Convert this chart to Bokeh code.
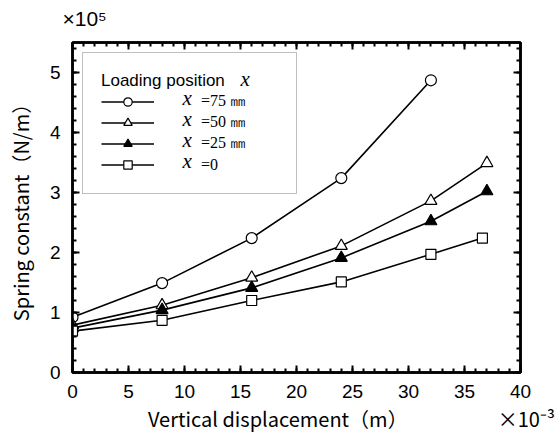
from bokeh.plotting import figure
from bokeh.models import (LinearAxis, SingleIntervalTicker, Legend, LegendItem,
                          Label, Title, CustomLabelingPolicy)
from bokeh.embed import file_html
from bokeh.resources import INLINE

# Vertical displacement (x 10^-3 m) and spring constant (x 10^5 N/m)
disp_75 = [0, 8, 16, 24, 32]
k_75 = [0.92, 1.49, 2.24, 3.24, 4.87]
disp_50 = [0, 8, 16, 24, 32, 37]
k_50 = [0.79, 1.12, 1.58, 2.11, 2.86, 3.49]
disp_25 = [0, 8, 16, 24, 32, 37]
k_25 = [0.74, 1.04, 1.41, 1.91, 2.52, 3.02]
disp_0 = [0, 8, 16, 24, 32, 36.6]
k_0 = [0.69, 0.87, 1.20, 1.51, 1.97, 2.24]
series_labels = ["=75 \u339c", "=50 \u339c", "=25 \u339c", "=0"]

X_MAX, Y_MAX = 40, 5.5
W, H = 557, 435
FL, FR, FT, FB = 72, 520, 42, 373   # frame edges in canvas pixels

SANS = "Liberation Sans"
JP = "Noto Sans CJK JP"
SERIF = "Liberation Serif"
IDSP = "\u3000"   # ideographic space
ENSP = "\u2002"   # en space

p = figure(width=W, height=H, x_range=(0, X_MAX), y_range=(0, Y_MAX),
           output_backend="svg", toolbar_location=None,
           min_border_left=FL, min_border_right=W - FR,
           min_border_top=FT, min_border_bottom=H - FB)
p.grid.visible = False
p.outline_line_color = "black"
p.outline_line_width = 2.5
p.background_fill_color = "white"
p.border_fill_color = "white"

xt = SingleIntervalTicker(interval=5, num_minor_ticks=5)
yt = SingleIntervalTicker(interval=1, num_minor_ticks=5)

# mirrored axes carry ticks only
no_labels = CustomLabelingPolicy(code="""
    for (const i of indices) indices.unset(i)
    return indices
""")


def style_axis(ax, labels=True):
    ax.axis_line_width = 2.5
    ax.axis_line_color = "black"
    ax.major_tick_in = 7
    ax.major_tick_out = 0
    ax.minor_tick_in = 4
    ax.minor_tick_out = 0
    ax.major_tick_line_width = 2
    ax.minor_tick_line_width = 2
    ax.major_tick_line_color = "black"
    ax.minor_tick_line_color = "black"
    if labels:
        ax.major_label_text_font = SANS
        ax.major_label_text_font_size = "19px"
        ax.major_label_text_color = "black"
        ax.major_label_standoff = 12
    else:
        ax.major_label_policy = no_labels
        ax.major_label_standoff = 0


xa = p.xaxis[0]
xa.ticker = xt
style_axis(xa)
# axis title with the scale multiplier at its right end
xa.axis_label = (IDSP * 5 + ENSP + "Vertical displacement\uff08m\uff09"
                 + IDSP * 5 + "\u00d710\u207b\u00b3")
xa.axis_label_text_font = JP
xa.axis_label_text_font_size = "20px"
xa.axis_label_text_font_style = "normal"
xa.axis_label_text_color = "black"
xa.axis_label_standoff = 3

ya = p.yaxis[0]
ya.ticker = yt
style_axis(ya)
ya.axis_label = "Spring constant\uff08N/m\uff09"
ya.axis_label_text_font = JP
ya.axis_label_text_font_size = "20px"
ya.axis_label_text_font_style = "normal"
ya.axis_label_text_color = "black"
ya.axis_label_standoff = 12

top = LinearAxis(ticker=xt)
style_axis(top, labels=False)
p.add_layout(top, "above")
right = LinearAxis(ticker=yt)
style_axis(right, labels=False)
p.add_layout(right, "right")

# scale multiplier of the spring constant, above the frame's left corner
p.add_layout(Title(text="\u00d710\u2075", align="left", offset=-10,
                   text_font=SANS, text_font_size="21px",
                   text_font_style="normal", text_color="black",
                   standoff=3), "above")

LW = 1.6
series = [
    (disp_75, k_75, "circle", "white", 11),
    (disp_50, k_50, "triangle", "white", 12),
    (disp_25, k_25, "triangle", "black", 12),
    (disp_0, k_0, "square", "white", 10),
]
items = []
for (xs, ys, marker, fill, size), lab in zip(series, series_labels):
    ln = p.line(xs, ys, line_color="black", line_width=LW)
    sc = p.scatter(xs, ys, marker=marker, size=size, fill_color=fill,
                   line_color="black", line_width=1.2)
    items.append(LegendItem(label=lab, renderers=[ln, sc]))

legend = Legend(items=items, location="top_left", margin=10, padding=18,
                glyph_width=53, glyph_height=21, label_height=21,
                label_width=77, label_standoff=47, spacing=0,
                title="Loading position", title_standoff=0,
                title_text_font=SANS, title_text_font_size="17px",
                title_text_font_style="normal", title_text_color="black",
                label_text_font=SERIF, label_text_font_size="16px",
                label_text_color="black",
                border_line_color="#808080", border_line_width=1.5,
                background_fill_alpha=0.0)
p.add_layout(legend, "center")


def add_symbol(px, py):
    # italic variable name, positioned in frame pixels
    p.add_layout(Label(x=px - FL, y=FB - py, x_units="screen", y_units="screen",
                       text="x", text_font=SERIF, text_font_size="21px",
                       text_font_style="italic", text_align="left",
                       text_baseline="middle", text_color="black"))


add_symbol(240, 79)
for row_y in (98, 119, 140, 161):
    add_symbol(182, row_y)

open("out.html", "w").write(file_html(p, INLINE))
